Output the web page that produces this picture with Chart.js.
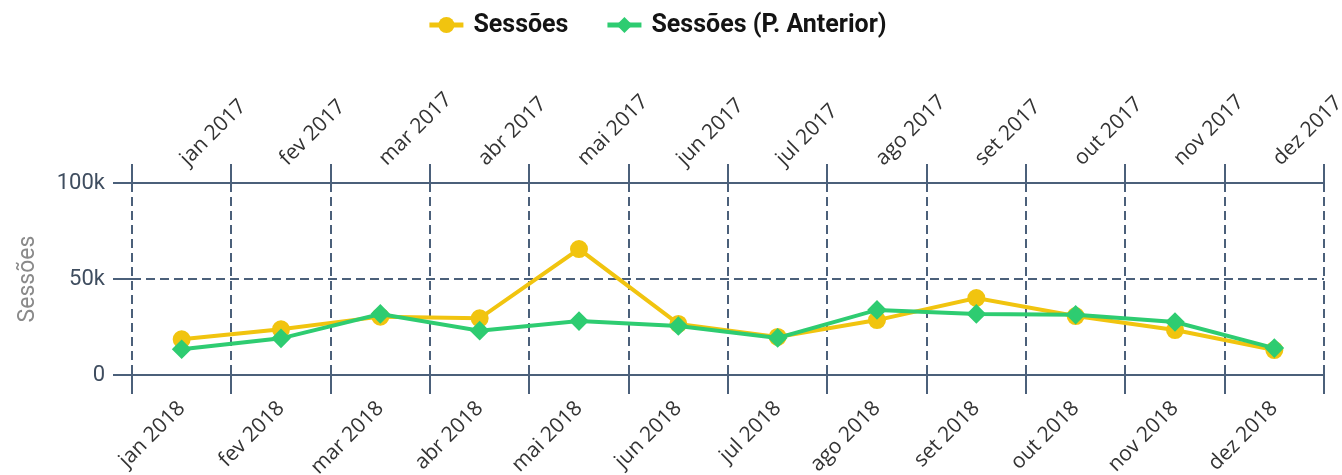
<!DOCTYPE html>
<html>
<head>
<meta charset="utf-8">
<script src="https://cdn.jsdelivr.net/npm/chart.js@4"></script>
<style>
html,body{margin:0;padding:0;background:#fff;overflow:hidden;}
#wrap{width:1342px;height:475px;position:relative;}
</style>
</head>
<body>
<div id="wrap"><canvas id="c" width="1342" height="475"></canvas></div>
<script>
const labels2018 = ['jan 2018','fev 2018','mar 2018','abr 2018','mai 2018','jun 2018','jul 2018','ago 2018','set 2018','out 2018','nov 2018','dez 2018'];
const labels2017 = ['jan 2017','fev 2017','mar 2017','abr 2017','mai 2017','jun 2017','jul 2017','ago 2017','set 2017','out 2017','nov 2017','dez 2017'];
const sessoes = [18600, 23800, 30400, 29500, 65600, 26600, 19800, 28600, 40100, 30700, 23400, 13000];
const sessoesAnterior = [13400, 19100, 31800, 23100, 28100, 25500, 19300, 33900, 31800, 31400, 27600, 14000];
const yTicks = [0, 50000, 100000];

const YELLOW = '#F1C40F';
const GREEN = '#2ECC71';
const GRID = '#4B607A';

// Custom legend: line + marker, then label
const lineLegend = {
  id: 'lineLegend',
  afterDraw(chart) {
    const ctx = chart.ctx;
    ctx.save();
    ctx.font = 'bold 25px Roboto';
    ctx.textBaseline = 'middle';
    const iconW = 34, iconGap = 10, itemGap = 39, y = 25;
    const items = chart.data.datasets.map(ds => ({ ds, w: ctx.measureText(ds.label).width }));
    let total = 0;
    items.forEach((it, i) => { total += iconW + iconGap + it.w + (i ? itemGap : 0); });
    let x = 658 - total / 2;
    items.forEach((it, i) => {
      if (i) x += itemGap;
      const c = it.ds.borderColor;
      ctx.strokeStyle = c; ctx.fillStyle = c; ctx.lineWidth = 5;
      ctx.beginPath(); ctx.moveTo(x, y); ctx.lineTo(x + iconW, y); ctx.stroke();
      const cx = x + iconW / 2;
      ctx.beginPath();
      if (it.ds.pointStyle === 'circle') {
        ctx.arc(cx, y, 8, 0, Math.PI * 2);
      } else {
        ctx.moveTo(cx, y - 8); ctx.lineTo(cx + 8, y); ctx.lineTo(cx, y + 8); ctx.lineTo(cx - 8, y); ctx.closePath();
      }
      ctx.fill();
      x += iconW + iconGap;
      ctx.fillStyle = '#141414';
      ctx.fillText(it.ds.label, x, y + 1);
      x += it.w;
    });
    ctx.restore();
  }
};

new Chart(document.getElementById('c'), {
  type: 'line',
  data: {
    labels: labels2018,
    datasets: [
      {
        label: 'Sessões', data: sessoes, borderColor: YELLOW, backgroundColor: YELLOW,
        borderWidth: 4, pointRadius: 7, pointHoverRadius: 7, pointStyle: 'circle', order: 1, tension: 0, xAxisID: 'x'
      },
      {
        label: 'Sessões (P. Anterior)', data: sessoesAnterior, borderColor: GREEN, backgroundColor: GREEN,
        borderWidth: 4, pointRadius: 7, pointHoverRadius: 7, pointStyle: 'rectRot', order: 0, tension: 0, xAxisID: 'x'
      }
    ]
  },
  plugins: [lineLegend],
  options: {
    responsive: false,
    animation: false,
    layout: { padding: { left: 0, right: 18, top: 0, bottom: 0 } },
    plugins: {
      tooltip: { enabled: false },
      legend: { display: false }
    },
    scales: {
      x: {
        type: 'category', position: 'bottom', offset: true,
        afterFit: (s) => { s.height = 100; },
        grid: { offset: true, color: GRID, lineWidth: 2, tickLength: 19, tickColor: GRID, tickWidth: 2, drawOnChartArea: true },
        border: { display: true, color: GRID, width: 2, dash: [9, 5] },
        ticks: { color: '#333', font: { family: 'Open Sans', size: 21 }, minRotation: 45, maxRotation: 45, padding: 2, autoSkip: false }
      },
      x2: {
        type: 'category', position: 'top', labels: labels2017, offset: true,
        afterFit: (s) => { s.height = 183; },
        grid: { offset: true, color: GRID, lineWidth: 2, tickLength: 19, tickColor: GRID, tickWidth: 2, drawOnChartArea: false },
        border: { display: true, color: GRID, width: 2 },
        ticks: { color: '#333', font: { family: 'Open Sans', size: 21 }, minRotation: 45, maxRotation: 45, padding: -7, labelOffset: 20, autoSkip: false }
      },
      y: {
        min: 0, max: 100000,
        afterFit: (s) => { s.width = 132; },
        afterBuildTicks: (s) => { s.ticks = yTicks.map(v => ({ value: v })); },
        title: { display: true, text: 'Sessões', color: '#8a8a8a', font: { family: 'Roboto', size: 23 }, padding: { top: 14, bottom: 0 } },
        grid: { color: GRID, lineWidth: 2, tickLength: 19, tickColor: GRID, tickWidth: 2 },
        border: { display: false, dash: [9, 5] },
        ticks: {
          color: '#3f4d5f', font: { family: 'Roboto', size: 22 }, padding: 8,
          callback: (v) => v === 0 ? '0' : (v / 1000) + 'k'
        }
      }
    }
  }
});
</script>
</body>
</html>
